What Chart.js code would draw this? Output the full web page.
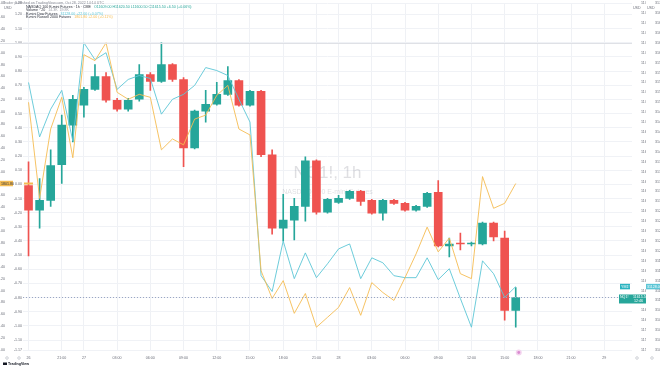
<!DOCTYPE html>
<html>
<head>
<meta charset="utf-8">
<script src="https://cdn.jsdelivr.net/npm/chart.js@4.4.0/dist/chart.umd.min.js"></script>
<style>
  html, body { margin: 0; padding: 0; background: #fff; }
  canvas { display: block; }
</style>
</head>
<body>
<canvas id="chart" width="660" height="368"></canvas>
<script>
// x categories (55 hourly slots, only some are labelled)
const tickLabels = ['26','','','21:00','','27','','','03:00','','','06:00','','','09:00','','','12:00','','','15:00','','','18:00','','','21:00','','28','','','03:00','','','06:00','','','09:00','','','12:00','','','15:00','','','18:00','','','21:00','','','29','',''];

// NQ1! 1h candles
const opens  = [11672,11659.5,11664.5,11682.5,11702.5,11712.5,11720.5,11727,11715,11710.5,11715.5,11728,11724.5,11733,11725.5,11691,11709.5,11713,11718,11725,11712.5,11719.5,11687.5,11650.5,11654.5,11661.5,11684.5,11658.5,11663.5,11665.5,11669,11664.5,11658,11664.5,11663,11659.5,11661.5,11668.5,11641.5,11642.75,11642.5,11642.5,11653,11645.5,11609];
const closes = [11659.5,11664.5,11682,11702.5,11715.5,11720.5,11727,11715,11710.5,11715,11728,11724.5,11733,11725.5,11691,11709.5,11713,11718,11725,11712.5,11719.5,11687.5,11650.5,11654.5,11661.5,11684.5,11658.5,11665,11665.5,11669,11664,11658,11664.5,11663,11659.5,11661.5,11668,11641.5,11642.5,11642.5,11642.75,11653,11646,11609,11615.5];
const highs  = [11684,11675.5,11690,11707.5,11717.5,11721.5,11733,11729,11716,11716,11733,11729,11744,11733.5,11726.5,11710,11720,11724,11732,11725.5,11720,11720,11690,11667.5,11665.5,11686.5,11685,11665.5,11667,11669.5,11669.5,11665,11665,11665,11663.5,11662,11668.5,11674.5,11645.5,11648,11643.5,11653.5,11653.5,11649,11620.5];
const lows   = [11636.5,11650.5,11661.5,11673,11694,11706.5,11720,11714,11709.5,11709.5,11714.5,11720,11724,11724.5,11681.5,11690.5,11704,11712.5,11717.5,11712,11712,11686.5,11647.5,11644,11644.5,11654,11657.5,11658,11663,11665,11662,11657.5,11654.5,11662.5,11659,11659,11661,11641,11636,11639.5,11641.5,11642,11644,11604,11600.5];

// compared symbols
const dowVals = [31540,31430,31486,31524,31422,31620,31586,31600,31526,31546,31554,31548,31476,31506,31516,31534,31570,31564,31554,31506,31460,31150,31118,31220,31144,31196,31146,31174,31204,31214,31144,31186,31176,31150,31146,31146,31186,31142,31164,31104,31046,31180,31154,31106,31128];
const rtyVals = [1810.0,1800.3,1807.3,1810.5,1804.4,1814.8,1814.2,1816.0,1811.0,1810.3,1810.8,1810.5,1805.2,1806.3,1805.7,1808.3,1808.7,1810.7,1811.7,1807.3,1806.7,1793.0,1790.2,1792.0,1788.7,1790.7,1787.3,1788.3,1789.3,1791.3,1788.5,1791.8,1790.8,1790.0,1792.3,1794.7,1797.4,1794.9,1796.3,1792.7,1792.2,1802.5,1799.3,1799.8,1801.8];

const UP = '#26a69a';
const DOWN = '#ef5350';
const CYAN = '#5cc6d6';
const ORANGE = '#f5bc52';
const AXIS_TEXT = '#6a6d78';
const tinyFont = { family: 'Liberation Sans', size: 3.6 };

const candleColors = opens.map((o, i) => closes[i] >= o ? UP : DOWN);
const bodies = opens.map((o, i) => [o, closes[i]]);
const wicks = lows.map((l, i) => [l, highs[i]]);

const overlay = {
  id: 'overlay',
  beforeDatasetsDraw(chart) {
    const { ctx, chartArea: a } = chart;
    const cx = (a.left + a.right) / 2;
    ctx.save();
    ctx.fillStyle = 'rgba(120,123,134,0.24)';
    ctx.textAlign = 'center';
    ctx.textBaseline = 'middle';
    ctx.font = '17px "Liberation Sans"';
    ctx.fillText('NQ1!, 1h', cx, 173);
    ctx.font = '7px "Liberation Sans"';
    ctx.fillText('NASDAQ 100 E-mini Futures', cx, 192);
    ctx.restore();
  },
  afterDatasetsDraw(chart) {
    const { ctx, chartArea: a, scales } = chart;
    const y = scales.y;
    ctx.save();
    // session high line
    const yHi = Math.round(y.getPixelForValue(Math.max(...highs))) + 0.5;
    ctx.strokeStyle = '#dfe1e6';
    ctx.lineWidth = 1;
    ctx.beginPath();
    ctx.moveTo(0, yHi);
    ctx.lineTo(a.right, yHi);
    ctx.stroke();
    // last price line
    const yLast = Math.round(y.getPixelForValue(closes[closes.length - 1])) + 0.5;
    ctx.strokeStyle = '#9aa6c4';
    ctx.setLineDash([1, 2]);
    ctx.beginPath();
    ctx.moveTo(a.left, yLast);
    ctx.lineTo(a.right, yLast);
    ctx.stroke();
    ctx.restore();
  },
  afterDraw(chart) {
    const { ctx, chartArea: a, scales } = chart;
    ctx.save();
    ctx.textBaseline = 'middle';

    // header + legend
    ctx.font = '3.6px "Liberation Sans"';
    ctx.fillStyle = '#8a8d96';
    ctx.fillText('Trader published on TradingView.com, Oct 28, 2022 14:14 UTC', 3, 3);
    ctx.fillStyle = '#6a6d78';
    ctx.fillText('USD', 4, 7.5);
    ctx.fillText('USD', scales.y.left + 1, 7.5);
    ctx.fillText('USD', scales.yCyan.left + 1, 7.5);

    const rows = [
      ['NASDAQ 100 E-mini Futures · 1h · CME', 'O11609.00 H11620.50 L11600.50 C11615.50 +6.50 (+0.06%)', UP],
      ['Volume · 20', '14.3K  19.8K', '#9a9da6'],
      ['E-mini Dow Futures', '31128.00 +22.00 (+0.07%)', CYAN],
      ['E-mini Russell 2000 Futures', '1801.80 +2.00 (+0.11%)', ORANGE]
    ];
    rows.forEach((r, i) => {
      const yy = 7 + i * 3.4;
      ctx.fillStyle = '#2a2e39';
      ctx.fillText(r[0], 26, yy);
      const w = ctx.measureText(r[0]).width;
      ctx.fillStyle = r[2];
      ctx.fillText(r[1], 26 + w + 3, yy);
    });

    // axis value tags
    const tag = (x, yc, w, h, bg, text, fg) => {
      ctx.fillStyle = bg;
      ctx.fillRect(x, yc - h / 2, w, h);
      ctx.fillStyle = fg;
      ctx.textAlign = 'left';
      ctx.fillText(text, x + 1, yc);
    };
    const yOr = scales.yOrange.getPixelForValue(rtyVals[rtyVals.length - 1]);
    tag(0, yOr, 13, 5.5, ORANGE, rtyVals[rtyVals.length - 1].toFixed(2), '#2a2e39');
    ctx.fillStyle = ORANGE;
    ctx.fillRect(a.left + 1, yOr - 1, 9, 2);

    const yCy = scales.yCyan.getPixelForValue(dowVals[dowVals.length - 1]);
    tag(scales.yCyan.left, yCy, 14, 5.5, CYAN, dowVals[dowVals.length - 1].toFixed(2), '#fff');
    tag(a.right - 12, yCy, 10, 5.5, '#2bb3c0', 'YM1!', '#fff');

    const last = closes[closes.length - 1];
    const yPr = scales.y.getPixelForValue(last);
    ctx.fillStyle = UP;
    ctx.fillRect(a.right - 13, yPr - 3, 27, 9);
    ctx.fillStyle = '#fff';
    ctx.fillText('NQ1!', a.right - 12, yPr);
    ctx.fillText(last.toFixed(2), a.right + 1, yPr);
    ctx.fillText('12:46', a.right + 2, yPr + 3.6);

    // event marker
    const xEv = scales.x.getPixelForValue(44);
    ctx.beginPath();
    ctx.arc(xEv + 3, a.bottom + 2.5, 3, 0, Math.PI * 2);
    ctx.fillStyle = '#f3d3ee';
    ctx.fill();
    ctx.beginPath();
    ctx.arc(xEv + 3, a.bottom + 2.5, 1.4, 0, Math.PI * 2);
    ctx.fillStyle = '#d98ad0';
    ctx.fill();

    // corner buttons
    ctx.strokeStyle = '#b2b5be';
    ctx.lineWidth = 0.6;
    [7, 19, scales.y.left + 5, scales.yCyan.left + 6].forEach(x => {
      ctx.beginPath();
      ctx.arc(x, a.bottom + 8, 1.3, 0, Math.PI * 2);
      ctx.stroke();
    });

    // logo
    ctx.fillStyle = '#131722';
    ctx.fillRect(3, 362.5, 4, 2.5);
    ctx.font = 'bold 3.6px "Liberation Sans"';
    ctx.fillText('TradingView', 8, 364);
    ctx.restore();
  }
};

const chart = new Chart(document.getElementById('chart').getContext('2d'), {
  type: 'bar',
  data: {
    labels: tickLabels,
    datasets: [
      { label: 'Orange', type: 'line', data: rtyVals, yAxisID: 'yOrange', borderColor: ORANGE, borderWidth: 0.9, pointRadius: 0, tension: 0, order: 1 },
      { label: 'Cyan', type: 'line', data: dowVals, yAxisID: 'yCyan', borderColor: CYAN, borderWidth: 0.9, pointRadius: 0, tension: 0, order: 2 },
      { label: 'Body', data: bodies, yAxisID: 'y', backgroundColor: candleColors, barThickness: 8, minBarLength: 1, grouped: false, order: 3 },
      { label: 'Wick', data: wicks, yAxisID: 'y', backgroundColor: candleColors, barThickness: 1, grouped: false, order: 4 }
    ]
  },
  options: {
    responsive: false,
    animation: false,
    devicePixelRatio: 1,
    layout: { padding: 0 },
    plugins: { legend: { display: false }, tooltip: { enabled: false } },
    scales: {
      x: {
        offset: true,
        border: { display: false },
        grid: { offset: false, drawTicks: false, color: c => tickLabels[c.index] ? '#eff1f5' : 'rgba(0,0,0,0)' },
        ticks: { autoSkip: false, maxRotation: 0, padding: 6, font: tinyFont, color: AXIS_TEXT, callback: (v, i) => tickLabels[i] },
        afterFit: s => { s.height = 18; }
      },
      y: {
        position: 'right', weight: 0, min: 11589, max: 11764,
        border: { display: false }, grid: { display: false },
        ticks: { stepSize: 5, padding: 1, font: tinyFont, color: AXIS_TEXT, callback: v => v.toFixed(2) },
        afterFit: s => { s.width = 14; }
      },
      yCyan: {
        position: 'right', weight: 1, min: 31000, max: 31700,
        border: { display: false }, grid: { display: false },
        ticks: { stepSize: 20, padding: 1, font: tinyFont, color: AXIS_TEXT, callback: v => v.toFixed(2) },
        afterFit: s => { s.width = 14; }
      },
      yPct: {
        position: 'left', weight: 0, min: -1.17, max: 1.28,
        border: { display: false },
        grid: { color: '#f0f2f6', drawTicks: false },
        ticks: { stepSize: 0.1, padding: 1, font: tinyFont, color: AXIS_TEXT, callback: v => v.toFixed(2) },
        afterFit: s => { s.width = 9; }
      },
      yOrange: {
        position: 'left', weight: 1, min: 1785, max: 1820,
        border: { display: false }, grid: { display: false },
        ticks: { stepSize: 0.6, padding: 1, font: tinyFont, color: AXIS_TEXT, callback: v => v.toFixed(2) },
        afterFit: s => { s.width = 14; }
      }
    }
  },
  plugins: [overlay]
});
</script>
</body>
</html>
